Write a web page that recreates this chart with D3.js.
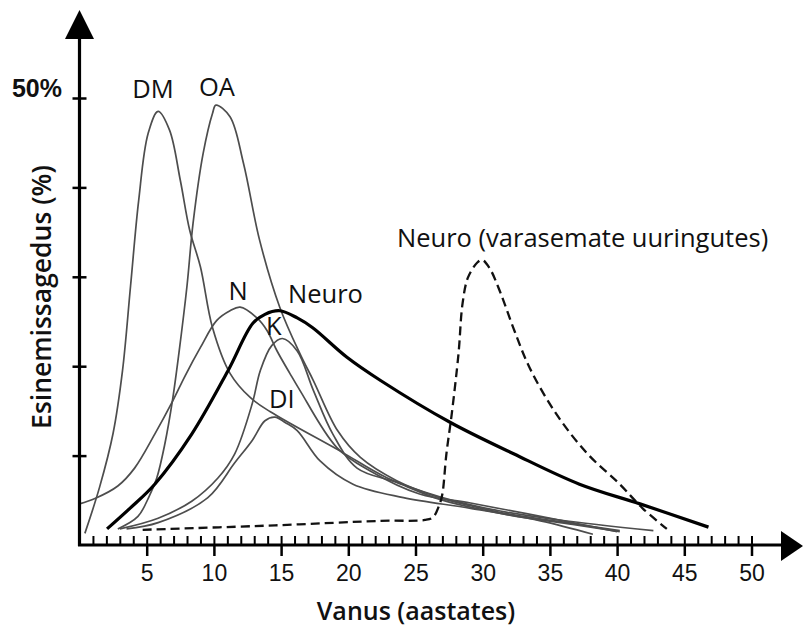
<!DOCTYPE html>
<html>
<head>
<meta charset="utf-8">
<script src="https://cdn.jsdelivr.net/npm/d3@7"></script>
<style>
    body { margin: 0; background: #fff; }
    svg { display: block; }
</style>
</head>
<body>
<svg id="chart" width="803" height="626"></svg>
<script>
"use strict";

// Age (years) on x, frequency (%) on y
const dmAge = [0.4, 1.5, 2.5, 3.2, 3.8, 4.4, 5.1, 5.85, 6.7, 7.5, 8.2, 9.0, 9.9, 11.2, 12.7, 14.2, 19.4, 22.9, 26.8, 31.3, 35.7, 42.7];
const dmVal = [1.3, 6.5, 12.5, 19.5, 29, 38.5, 46, 48.5, 46.4, 40.8, 35.2, 31.1, 24.3, 19.2, 16.5, 14.9, 10.5, 7.5, 5.4, 3.8, 2.8, 1.6];

const oaAge = [2.85, 4.35, 5.2, 5.75, 6.35, 6.9, 7.4, 8.0, 8.45, 9.2, 9.9, 10.15, 11.2, 12.2, 13.4, 14.9, 16.4, 17.4, 19.2, 20.9, 23.6, 26.8, 29.1, 31.8, 36.7, 40.2];
const oaVal = [1.8, 3.2, 5.5, 7.5, 11.3, 16.0, 21.5, 29.0, 36.0, 43.8, 48.3, 49.2, 47.9, 42.7, 34.1, 26.6, 21.4, 18.4, 12.8, 9.8, 7.2, 5.3, 4.4, 3.5, 2.4, 1.6];

const nAge = [0, 1.15, 2.85, 4.1, 5.6, 6.9, 7.85, 9.0, 10.2, 11.2, 11.95, 13.2, 13.95, 14.7, 15.65, 16.4, 19.15, 21.6, 25.3, 29.1, 34.3, 40.0];
const nVal = [4.6, 5.2, 6.6, 8.6, 12.4, 16.0, 18.9, 22.1, 25.1, 26.2, 26.6, 25.4, 24.0, 21.7, 19.2, 17.3, 10.9, 8.3, 5.7, 4.7, 3.2, 1.5];

const kAge = [3.0, 5.85, 8.35, 10.3, 11.55, 12.85, 13.45, 14.3, 15.1, 16.2, 17.4, 18.85, 20.65, 23.6, 26.8, 31.8, 36.7, 40.2];
const kVal = [1.8, 3.0, 4.9, 7.5, 10.2, 15.8, 19.5, 22.3, 23.1, 21.7, 17.3, 12.4, 8.6, 7.0, 5.1, 3.4, 2.3, 1.5];

const diAge = [3.5, 5.85, 9.55, 11.55, 12.85, 13.8, 14.55, 15.3, 16.2, 17.9, 20.35, 24.1, 29.1, 34.3, 38.2];
const diVal = [1.8, 2.5, 5.3, 9.2, 11.7, 13.9, 14.3, 13.7, 12.8, 9.4, 6.8, 5.3, 4.1, 2.7, 1.2];

const neuroAge = [2.05, 3.75, 5.6, 8.35, 11.05, 12.9, 13.8, 14.9, 16.2, 17.35, 19.9, 22.4, 27.6, 32.3, 37.2, 41.7, 46.8];
const neuroVal = [1.8, 4.1, 6.8, 12.4, 19.5, 24.8, 25.8, 26.2, 25.4, 24.3, 21.0, 18.4, 13.7, 10.2, 6.8, 4.6, 2.0];

// Neuro from earlier studies
const oldAge = [4.7, 14.55, 22.4, 25.7, 26.3, 26.8, 27.0, 27.3, 27.7, 28.2, 28.5, 28.9, 29.6, 29.95, 30.5, 31.3, 32.3, 33.5, 35.5, 37.8, 40.2, 41.9, 43.7];
const oldVal = [1.7, 2.2, 2.7, 2.8, 3.1, 4.6, 5.7, 10.2, 14.7, 21.4, 27.0, 29.9, 31.6, 31.9, 31.0, 28.3, 24.2, 19.8, 14.6, 10.2, 6.8, 4.1, 1.8];

const minorTicks = d3.range(1, 51);
const majorTicks = [5, 10, 15, 20, 25, 30, 35, 40, 45, 50];
const yTicks = [10, 20, 30, 40, 50];

const svg = d3.select('#chart');

const x = d3.scaleLinear().domain([0, 50]).range([79.5, 751.5]);
const y = d3.scaleLinear().domain([0, 50]).range([545, 98]);

const line = d3.line()
    .x(d => x(d[0]))
    .y(d => y(d[1]))
    .curve(d3.curveCatmullRom.alpha(0.5));

function pairs(ages, vals) {
    return ages.map((a, i) => [a, vals[i]]);
}

// Thin grey curves
const thin = [
    pairs(dmAge, dmVal),
    pairs(oaAge, oaVal),
    pairs(nAge, nVal),
    pairs(kAge, kVal),
    pairs(diAge, diVal)
];

svg.append('g')
    .selectAll('path')
    .data(thin)
    .enter().append('path')
    .attr('d', line)
    .attr('fill', 'none')
    .attr('stroke', '#4d4d4d')
    .attr('stroke-width', 1.7);

// Earlier studies, dashed
svg.append('path')
    .attr('d', line(pairs(oldAge, oldVal)))
    .attr('fill', 'none')
    .attr('stroke', '#111')
    .attr('stroke-width', 2.3)
    .attr('stroke-dasharray', '9,5');

// Neuro, thick
svg.append('path')
    .attr('d', line(pairs(neuroAge, neuroVal)))
    .attr('fill', 'none')
    .attr('stroke', '#000')
    .attr('stroke-width', 3.2);

// X axis: small ticks above, major ticks below with labels
svg.append('g')
    .attr('transform', 'translate(0,545)')
    .call(d3.axisTop(x).tickValues(minorTicks).tickSize(9).tickFormat(''))
    .call(g => g.select('.domain').remove())
    .selectAll('line')
    .attr('stroke', '#000')
    .attr('stroke-width', 2);

const xMajor = svg.append('g')
    .attr('transform', 'translate(0,545)')
    .call(d3.axisBottom(x).tickValues(majorTicks).tickSize(11).tickPadding(9))
    .call(g => g.select('.domain').remove());
xMajor.selectAll('line').attr('stroke', '#000').attr('stroke-width', 2.5);
xMajor.selectAll('text')
    .attr('fill', '#111')
    .style('font-family', '"Liberation Sans", Arial, sans-serif')
    .style('font-size', '23px');

// Y axis ticks on both sides
[d3.axisLeft, d3.axisRight].forEach(ax => {
    svg.append('g')
        .attr('transform', 'translate(79.5,0)')
        .call(ax(y).tickValues(yTicks).tickSize(7).tickFormat(''))
        .call(g => g.select('.domain').remove())
        .selectAll('line')
        .attr('stroke', '#000')
        .attr('stroke-width', 2.5);
});

// Axis lines with arrowheads
svg.append('line')
    .attr('x1', 79.5).attr('y1', 546)
    .attr('x2', 79.5).attr('y2', 36)
    .attr('stroke', '#000').attr('stroke-width', 3.2);
svg.append('path')
    .attr('d', 'M79.5,10L65,39L94,39Z')
    .attr('fill', '#000');

svg.append('line')
    .attr('x1', 78).attr('y1', 545)
    .attr('x2', 784).attr('y2', 545)
    .attr('stroke', '#000').attr('stroke-width', 3.2);
svg.append('path')
    .attr('d', 'M803,546L781,531L781,561Z')
    .attr('fill', '#000');

svg.append('text')
    .attr('x', 37).attr('y', y(50) - 1)
    .attr('text-anchor', 'middle')
    .style('font-family', '"Liberation Sans", Arial, sans-serif')
    .style('font-size', '25px')
    .style('font-weight', 'bold')
    .attr('fill', '#111')
    .text('50%');

// Axis titles
svg.append('text')
    .attr('x', 416).attr('y', 620)
    .attr('text-anchor', 'middle')
    .style('font-family', '"Open Sans", sans-serif')
    .style('font-size', '25px')
    .style('font-weight', 600)
    .attr('fill', '#111')
    .text('Vanus (aastates)');

svg.append('text')
    .attr('transform', 'translate(51,297) rotate(-90)')
    .attr('text-anchor', 'middle')
    .style('font-family', '"Open Sans", sans-serif')
    .style('font-size', '26.5px')
    .style('font-weight', 600)
    .attr('fill', '#111')
    .text('Esinemissagedus (%)');

// Curve labels
const labels = [
    { t: 'DM', x: 153, y: 98, a: 'middle' },
    { t: 'OA', x: 217, y: 96, a: 'middle' },
    { t: 'N', x: 238, y: 300, a: 'middle' },
    { t: 'Neuro', x: 288, y: 303, a: 'start' },
    { t: 'K', x: 266, y: 335, a: 'start' },
    { t: 'DI', x: 269, y: 408, a: 'start' },
    { t: 'Neuro (varasemate uuringutes)', x: 397, y: 247, a: 'start' }
];

svg.append('g')
    .selectAll('text')
    .data(labels)
    .enter().append('text')
    .attr('x', d => d.x)
    .attr('y', d => d.y)
    .attr('text-anchor', d => d.a)
    .style('font-family', '"Open Sans", sans-serif')
    .style('font-size', '25.5px')
    .attr('fill', '#111')
    .text(d => d.t);
</script>
</body>
</html>
